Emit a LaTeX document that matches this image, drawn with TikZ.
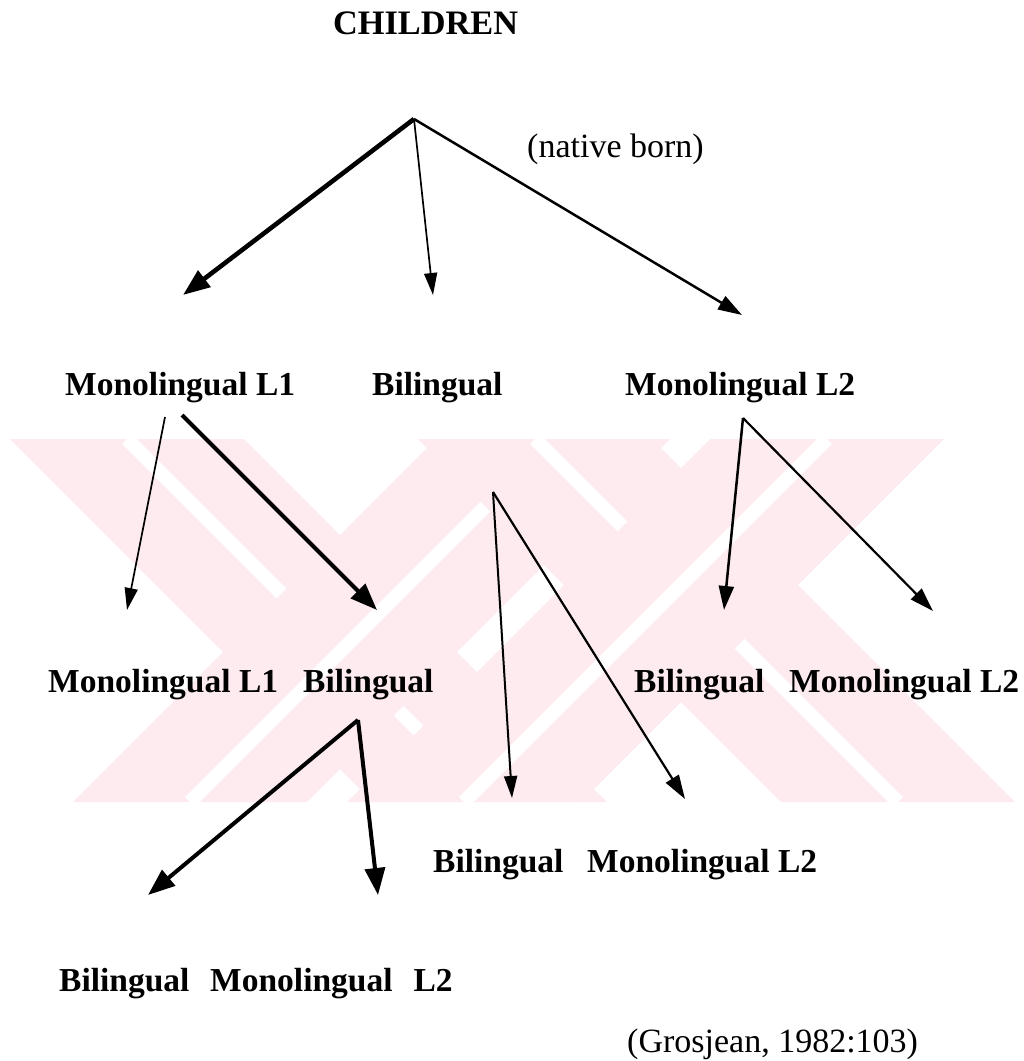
\documentclass[tikz,border=0pt]{standalone}
\usepackage{fontspec}
\setmainfont{Liberation Serif}
\usetikzlibrary{arrows.meta}
\definecolor{wmpink}{RGB}{253,235,239}
\begin{document}
\begin{tikzpicture}[x=1pt,y=-1pt,
  lbl/.style={inner sep=0pt, anchor=base west, font=\fontsize{33.5pt}{40pt}\selectfont\bfseries},
  ttl/.style={inner sep=0pt, anchor=base west, font=\fontsize{34.3pt}{40pt}\selectfont\bfseries},
  plain/.style={inner sep=0pt, anchor=base west, font=\fontsize{34pt}{40pt}\selectfont},
  thinarr/.style={line width=1.7pt, -{Triangle[length=22pt,width=13pt]}},
  medarr/.style={line width=2.5pt, -{Triangle[length=24pt,width=15pt]}},
  thickarr/.style={line width=4.6pt, -{Triangle[length=27pt,width=20pt]}},
  arm/.style={fill=wmpink},
  armline/.style={draw=white, line width=14pt}]
\useasboundingbox (0,0) rectangle (1024,1061);

% watermark
\begin{scope}
\clip (0,439) rectangle (1024,802);
\fill[arm] (10,439) -- (244,439) -- (607,802) -- (373,802) -- cycle;
\path[armline] (127,439) -- (490,802);
\fill[arm] (436,439) -- (670,439) -- (307,802) -- (73,802) -- cycle;
\path[armline] (553,439) -- (190,802);
\fill[arm] (418,439) -- (652,439) -- (1015,802) -- (781,802) -- cycle;
\path[armline] (535,439) -- (898,802);
\fill[arm] (710,439) -- (944,439) -- (581,802) -- (347,802) -- cycle;
\path[armline] (827,439) -- (464,802);
\end{scope}

% text
\node[ttl] (children) at (333,34) {CHILDREN};
\node[plain] (native) at (527,157) {(native born)};
\node[lbl] (m1) at (65,395) {Monolingual L1};
\node[lbl] (b1) at (372,395) {Bilingual};
\node[lbl] (m2) at (625,395) {Monolingual L2};
\node[lbl] (m1a) at (48,692) {Monolingual L1};
\node[lbl] (b1a) at (303,692) {Bilingual};
\node[lbl] (b2a) at (634,692) {Bilingual};
\node[lbl] (m2a) at (789,692) {Monolingual L2};
\node[lbl] (b3) at (433,872) {Bilingual};
\node[lbl] (m3) at (587,872) {Monolingual L2};
\node[lbl] (b4) at (59,991) {Bilingual};
\node[lbl] (m4) at (210,991) {Monolingual\hspace{21pt}L2};
\node[plain] (src) at (627,1052) {(Grosjean, 1982:103)};

% connector points
\coordinate (a0) at (414,119);
\coordinate (t1) at (183,295);
\coordinate (t2) at (433,295);
\coordinate (t3) at (742,315);
\coordinate (s1a) at (165,417);
\coordinate (s1b) at (182,415);
\coordinate (u1) at (127,610);
\coordinate (u2) at (377,610);
\coordinate (s2) at (743,418);
\coordinate (u3) at (724,610);
\coordinate (u4) at (933,611);
\coordinate (s3) at (493,492);
\coordinate (u5) at (512,798);
\coordinate (u6) at (685,799);
\coordinate (s4) at (358,720);
\coordinate (u7) at (148,895);
\coordinate (u8) at (378,895);

% connectors
\draw[thickarr] (a0) -- (t1);
\draw[thinarr] (a0) -- (t2);
\draw[medarr] (a0) -- (t3);
\draw[thinarr] (s1a) -- (u1);
\draw[thickarr, line width=4pt] (s1b) -- (u2);
\draw[medarr] (s2) -- (u3);
\draw[medarr, line width=2.2pt] (s2) -- (u4);
\draw[thinarr, line width=2pt] (s3) -- (u5);
\draw[medarr, line width=2.2pt] (s3) -- (u6);
\draw[thickarr, line width=4pt] (s4) -- (u7);
\draw[thickarr, line width=4pt] (s4) -- (u8);
\end{tikzpicture}
\end{document}
